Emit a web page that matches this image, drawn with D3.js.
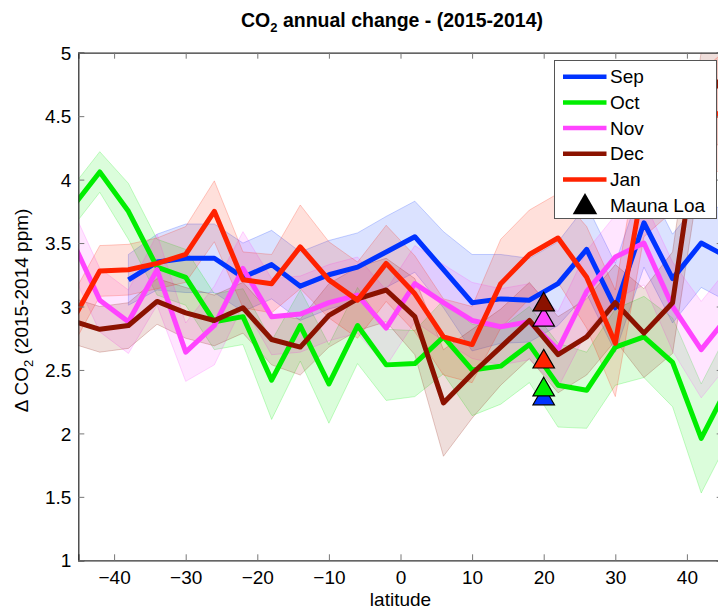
<!DOCTYPE html>
<html><head><meta charset="utf-8">
<script src="https://cdn.jsdelivr.net/npm/d3@7"></script>
<style>
html,body{margin:0;padding:0;background:#fff;}
svg{display:block;font-family:"Liberation Sans",Arial,Helvetica,sans-serif;}
</style></head>
<body>
<svg id="chart" width="718" height="611"></svg>
<script>
// ---------- data ----------
const latitudes = [-46,-42,-38,-34,-30,-26,-22,-18,-14,-10,-6,-2,2,6,10,14,18,22,26,30,34,38,42,46];
const sepValues = [null,null,3.21,3.35,3.38,3.38,3.23,3.33,3.16,3.25,3.31,3.43,3.55,3.29,3.03,3.06,3.05,3.18,3.45,2.99,3.66,3.22,3.50,3.38];
const sepErr    = [null,null,0.20,0.22,0.27,0.27,0.27,0.27,0.27,0.27,0.27,0.28,0.28,0.30,0.38,0.35,0.33,0.33,0.35,0.35,0.35,0.35,0.35,0.35];
const octValues = [3.77,4.06,3.75,3.31,3.23,2.88,2.92,2.42,2.85,2.39,2.85,2.54,2.55,2.76,2.50,2.53,2.70,2.38,2.34,2.68,2.76,2.56,1.96,2.40];
const octErr    = [0.16,0.16,0.22,0.22,0.22,0.22,0.22,0.31,0.28,0.31,0.30,0.28,0.26,0.29,0.36,0.30,0.30,0.33,0.30,0.30,0.32,0.35,0.43,0.43];
const novValues = [3.54,3.05,2.88,3.29,2.64,2.85,3.30,2.92,2.94,3.03,3.09,2.83,3.18,3.03,2.89,2.84,2.88,2.66,3.12,3.39,3.50,3.00,2.66,2.94];
const novErr    = [0.25,0.25,0.25,0.28,0.23,0.31,0.29,0.30,0.30,0.30,0.30,0.30,0.30,0.30,0.30,0.30,0.30,0.30,0.32,0.33,0.33,0.35,0.38,0.38];
const decValues = [2.89,2.82,2.85,3.04,2.95,2.89,2.99,2.74,2.68,2.93,3.06,3.13,2.92,2.24,2.47,2.68,2.89,2.62,2.76,3.03,2.79,3.03,4.56,4.90];
const decErr    = [0.18,0.18,0.18,0.18,0.20,0.20,0.20,0.20,0.22,0.25,0.25,0.25,0.30,0.42,0.35,0.30,0.30,0.30,0.30,0.30,0.35,0.40,0.45,0.50];
const janValues = [2.87,3.28,3.29,3.34,3.41,3.75,3.21,3.18,3.47,3.21,3.05,3.34,3.10,2.76,2.70,3.18,3.41,3.54,3.23,2.71,4.00,4.20,4.40,4.60];
const janErr    = [0.20,0.20,0.20,0.20,0.22,0.24,0.22,0.23,0.33,0.30,0.30,0.30,0.30,0.30,0.30,0.35,0.35,0.35,0.40,0.42,0.45,0.45,0.45,0.45];
const seriesNames = ["Sep","Oct","Nov","Dec","Jan"];
const seriesColors = ["#0033ff","#00ee00","#ff44ff","#8b1200","#ff2200"];
const maunaLoaLat = 20;
const maunaLoaValues = [2.29,2.36,2.91,3.03,2.58]; // Sep, Oct, Nov, Dec, Jan
const xTicks = [-40,-30,-20,-10,0,10,20,30,40];
const yTicks = [1,1.5,2,2.5,3,3.5,4,4.5,5];

const series = [
  {name:"Sep", v:sepValues, e:sepErr},
  {name:"Oct", v:octValues, e:octErr},
  {name:"Nov", v:novValues, e:novErr},
  {name:"Dec", v:decValues, e:decErr},
  {name:"Jan", v:janValues, e:janErr}
];

// ---------- layout ----------
const svg = d3.select("#chart");
const L = 78.3, R = 722.7, T = 52.7, B = 560.3;
const x = d3.scaleLinear().domain([-45,45]).range([L,R]);
const y = d3.scaleLinear().domain([1,5]).range([B,T]);
const color = d3.scaleOrdinal().domain(seriesNames).range(seriesColors);

svg.append("defs").append("clipPath").attr("id","clip")
  .append("rect").attr("x",L).attr("y",T).attr("width",R-L).attr("height",B-T);

const plot = svg.append("g").attr("clip-path","url(#clip)");

const area = d3.area().defined(d=>d.v!=null)
  .x(d=>x(d.lat)).y0(d=>y(d.v-d.e)).y1(d=>y(d.v+d.e));
const line = d3.line().defined(d=>d.v!=null).x(d=>x(d.lat)).y(d=>y(d.v));

const pts = s => latitudes.map((lat,i)=>({lat, v:s.v[i], e:s.e[i]}));

series.forEach(s=>{
  plot.append("path").datum(pts(s)).attr("d",area)
    .attr("fill",color(s.name)).attr("fill-opacity",0.14)
    .attr("stroke",color(s.name)).attr("stroke-opacity",0.22).attr("stroke-width",1);
});
series.forEach(s=>{
  plot.append("path").datum(pts(s)).attr("d",line)
    .attr("fill","none").attr("stroke",color(s.name)).attr("stroke-width",5)
    .attr("stroke-linejoin","round");
});

// Mauna Loa triangles
const tri = d3.symbol().type(d3.symbolTriangle).size(200);
seriesNames.forEach((n,i)=>{
  plot.append("path").attr("d",tri)
    .attr("transform",`translate(${x(maunaLoaLat)},${y(maunaLoaValues[i])+2})`)
    .attr("fill",color(n)).attr("stroke","#000").attr("stroke-width",1.2);
});

// ---------- axes ----------
const axisColor = "#333";
const fontSize = 19;
const gB = svg.append("g").attr("transform",`translate(0,${B})`)
  .call(d3.axisBottom(x).tickValues(xTicks).tickSize(-6).tickPadding(10).tickFormat(d3.format("d")));
const gT = svg.append("g").attr("transform",`translate(0,${T})`)
  .call(d3.axisTop(x).tickValues(xTicks).tickSize(-6).tickFormat(""));
const gL = svg.append("g").attr("transform",`translate(${L},0)`)
  .call(d3.axisLeft(y).tickValues(yTicks).tickSize(-6).tickPadding(7).tickFormat(d=>String(d)));
const gR = svg.append("g").attr("transform",`translate(${R},0)`)
  .call(d3.axisRight(y).tickValues(yTicks).tickSize(-6).tickFormat(""));
[gB,gT,gL,gR].forEach(g=>{
  g.select(".domain").attr("stroke",axisColor).attr("stroke-width",1.3);
  g.selectAll(".tick line").attr("stroke","#777").attr("stroke-width",1);
  g.selectAll("text").attr("fill","#000").style("font-size",fontSize+"px")
    .style("font-family","'Liberation Sans',Arial,sans-serif");
});
gB.selectAll(".tick text").attr("dy","0.71em");
gL.selectAll(".tick text").attr("dy","0.35em");

// x label
svg.append("text").attr("x",x(0)).attr("y",606).attr("text-anchor","middle")
  .style("font-size",fontSize+"px").text("latitude");

// y label
const yl = svg.append("text").attr("transform",`translate(28,${(T+B)/2+4}) rotate(-90)`)
  .attr("text-anchor","middle").style("font-size",fontSize+"px");
yl.append("tspan").text("\u0394 CO");
yl.append("tspan").attr("dy",5).style("font-size","13px").text("2");
yl.append("tspan").attr("dy",-5).text(" (2015-2014 ppm)");

// title
const tt = svg.append("text").attr("x",392).attr("y",27).attr("text-anchor","middle")
  .style("font-size","19.5px").style("font-weight","bold");
tt.append("tspan").text("CO");
tt.append("tspan").attr("dy",5).style("font-size","13px").text("2");
tt.append("tspan").attr("dy",-5).text(" annual change - (2015-2014)");

// ---------- legend ----------
const lg = svg.append("g");
lg.append("rect").attr("x",554.5).attr("y",60.5).attr("width",162).attr("height",158)
  .attr("fill","#fff").attr("stroke","#555").attr("stroke-width",1);
const rowY = [76.7,102.4,128.1,153.8,179.5,205.2];
seriesNames.forEach((n,i)=>{
  lg.append("line").attr("x1",563).attr("x2",606.5).attr("y1",rowY[i]).attr("y2",rowY[i])
    .attr("stroke",color(n)).attr("stroke-width",4.5);
  lg.append("text").attr("x",610).attr("y",rowY[i]).attr("dy","0.35em")
    .style("font-size",fontSize+"px").text(n);
});
lg.append("path").attr("d",d3.symbol().type(d3.symbolTriangle).size(260))
  .attr("transform",`translate(585,${rowY[5]+2})`).attr("fill","#000");
lg.append("text").attr("x",610).attr("y",rowY[5]).attr("dy","0.35em")
  .style("font-size",fontSize+"px").text("Mauna Loa");
</script>
</body></html>
